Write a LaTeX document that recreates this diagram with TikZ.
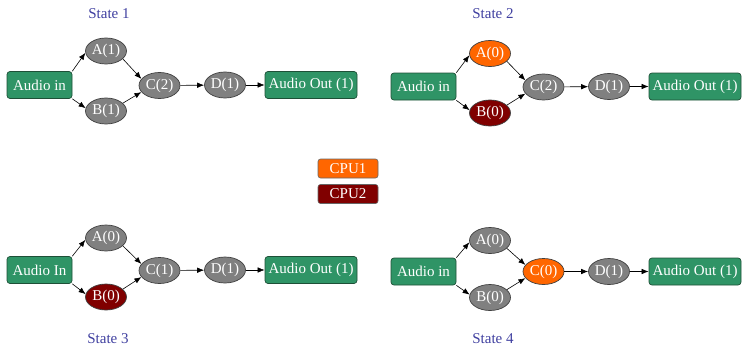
\documentclass[tikz,border=0pt]{standalone}
\usepackage{fontspec}
\setmainfont{Liberation Serif}
\usetikzlibrary{arrows.meta,shapes.geometric}
\definecolor{boxgreen}{RGB}{47,148,102}
\definecolor{boxborder}{RGB}{30,80,55}
\definecolor{nodegray}{RGB}{128,128,128}
\definecolor{cpuone}{RGB}{255,102,0}
\definecolor{cputwo}{RGB}{128,0,0}
\definecolor{titleblue}{RGB}{64,64,160}
\tikzset{
  iobox/.style={draw=boxborder, fill=boxgreen, rounded corners=3pt, text=white,
    minimum height=27pt, inner sep=0pt, line width=0.7pt, font=\fontsize{15}{15}\selectfont},
  procnode/.style={ellipse, draw=black!75, fill=nodegray, text=white, minimum width=41pt,
    minimum height=26pt, inner sep=0pt, line width=0.7pt, font=\fontsize{15}{15}\selectfont},
  cpubox/.style={draw=black!60, rounded corners=2.5pt, text=white, minimum width=60pt,
    minimum height=19pt, inner sep=0pt, line width=0.6pt, font=\fontsize{15}{15}\selectfont},
  statetitle/.style={text=titleblue, font=\fontsize{15}{15}\selectfont},
  flow/.style={-{Latex[length=7pt,width=5.5pt]}, line width=0.6pt, black},
}
\newcommand{\stateedges}[1]{%
  \draw[flow] (#1-in.north east) -- (#1-A.185);
  \draw[flow] (#1-in.south east) -- (#1-B.172);
  \draw[flow] (#1-A.-25) -- (#1-C.160);
  \draw[flow] (#1-B.25) -- (#1-C.200);
  \draw[flow] (#1-C) -- (#1-D);
  \draw[flow] (#1-D) -- (#1-out);
}
\begin{document}
\begin{tikzpicture}[x=1pt,y=-1pt]
\useasboundingbox (0,0) rectangle (742,346);
% titles
\node[statetitle] (t1) at (109,14) {State 1};
\node[statetitle] (t2) at (493,14) {State 2};
\node[statetitle] (t3) at (108,339) {State 3};
\node[statetitle] (t4) at (493,339) {State 4};
% legend
\node[cpubox, fill=cpuone] (cpu1) at (348,168.5) {CPU1};
\node[cpubox, fill=cputwo] (cpu2) at (348,194) {CPU2};
% State 1
\begin{scope}[shift={(0,85)}, name prefix=s1-]
\node[iobox, minimum width=65pt] (in) at (39.5,0) {Audio in};
\node[procnode] (A) at (106,-34) {A(1)};
\node[procnode] (B) at (106,26) {B(1)};
\node[procnode] (C) at (159.5,0.5) {C(2)};
\node[procnode] (D) at (225,0) {D(1)};
\node[iobox, minimum width=92pt] (out) at (311,0) {Audio Out (1)};
\end{scope}
\stateedges{s1}
% State 2
\begin{scope}[shift={(384,86.5)}, name prefix=s2-]
\node[iobox, minimum width=65pt] (in) at (39.5,0) {Audio in};
\node[procnode, fill=cpuone] (A) at (106,-33) {A(0)};
\node[procnode, fill=cputwo] (B) at (106,26.5) {B(0)};
\node[procnode] (C) at (159.5,0.5) {C(2)};
\node[procnode] (D) at (225,0) {D(1)};
\node[iobox, minimum width=92pt] (out) at (311,0) {Audio Out (1)};
\end{scope}
\stateedges{s2}
% State 3
\begin{scope}[shift={(0,270)}, name prefix=s3-]
\node[iobox, minimum width=65pt] (in) at (39.5,0) {Audio In};
\node[procnode] (A) at (106,-32) {A(0)};
\node[procnode, fill=cputwo] (B) at (106,27) {B(0)};
\node[procnode] (C) at (159.5,0.5) {C(1)};
\node[procnode] (D) at (225,0) {D(1)};
\node[iobox, minimum width=92pt] (out) at (311,0) {Audio Out (1)};
\end{scope}
\stateedges{s3}
% State 4
\begin{scope}[shift={(384,271.5)}, name prefix=s4-]
\node[iobox, minimum width=65pt] (in) at (39.5,0) {Audio in};
\node[procnode] (A) at (106,-31) {A(0)};
\node[procnode] (B) at (106,26) {B(0)};
\node[procnode, fill=cpuone] (C) at (159.5,0) {C(0)};
\node[procnode] (D) at (225,0) {D(1)};
\node[iobox, minimum width=92pt] (out) at (311,0) {Audio Out (1)};
\end{scope}
\stateedges{s4}
\end{tikzpicture}
\end{document}
